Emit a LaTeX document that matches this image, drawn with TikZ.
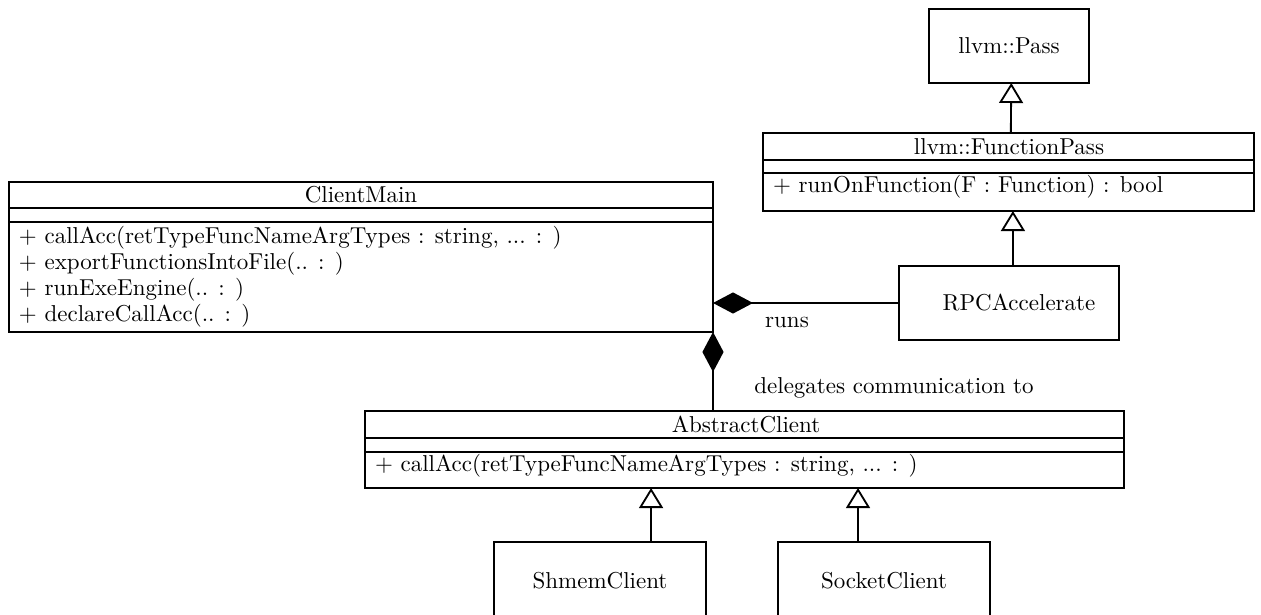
\documentclass[tikz,border=0pt]{standalone}
\usetikzlibrary{arrows.meta,calc}
\newdimen\px \px=0.4348pt
\begin{document}
\begin{tikzpicture}[x=0.4348pt,y=-0.4348pt,
  box/.style={draw,line width=0.8pt,inner sep=0pt,outer sep=0pt},
  txt/.style={inner sep=0pt,outer sep=0pt},
  sep/.style={line width=0.8pt},
  inh/.style={line width=0.8pt,-{Triangle[open,width=10.4pt,length=8.7pt,line width=0.8pt]}},
  comp/.style={line width=0.8pt,-{Diamond[width=9.2pt,length=17.4pt]}}]
\useasboundingbox (0,0) rectangle (1261,615);
\fill[white] (0,0) rectangle (1261,615);
\clip (0,0) rectangle (1261,615);

% llvm::Pass
\node[box,minimum width=160\px,minimum height=74\px] (pass) at (1009,46) {llvm::Pass};

% llvm::FunctionPass
\node[box,minimum width=491\px,minimum height=78\px] (fp) at (1008.5,172) {};
\draw[sep] ($(fp.north west)+(0,27)$) -- ($(fp.north east)+(0,27)$);
\draw[sep] ($(fp.north west)+(0,40)$) -- ($(fp.north east)+(0,40)$);
\node[txt] (fpt) at (1009,147) {llvm::FunctionPass};
\node[txt,anchor=base west] (fpm) at (773,193) {+ runOnFunction(F : Function) : bool};

% RPCAccelerate
\node[box,minimum width=220\px,minimum height=74\px] (rpc) at (1009,303) {};
\node[txt] (rpct) at (1019,303) {RPCAccelerate};

% ClientMain
\node[box,minimum width=704\px,minimum height=150\px] (cm) at (361,257) {};
\draw[sep] ($(cm.north west)+(0,26)$) -- ($(cm.north east)+(0,26)$);
\draw[sep] ($(cm.north west)+(0,40)$) -- ($(cm.north east)+(0,40)$);
\node[txt] (cmt) at (361,195) {ClientMain};
\node[txt,anchor=base west] (cm1) at (19,243) {+ callAcc(retTypeFuncNameArgTypes : string, ... : )};
\node[txt,anchor=base west] (cm2) at (19,269) {+ exportFunctionsIntoFile(.. : )};
\node[txt,anchor=base west] (cm3) at (19,295) {+ runExeEngine(.. : )};
\node[txt,anchor=base west] (cm4) at (19,321) {+ declareCallAcc(.. : )};

% AbstractClient
\node[box,minimum width=759\px,minimum height=77\px] (abs) at (744.5,449.5) {};
\draw[sep] ($(abs.north west)+(0,27)$) -- ($(abs.north east)+(0,27)$);
\draw[sep] ($(abs.north west)+(0,41)$) -- ($(abs.north east)+(0,41)$);
\node[txt] (abst) at (746,425) {AbstractClient};
\node[txt,anchor=base west] (absm) at (375,471) {+ callAcc(retTypeFuncNameArgTypes : string, ... : )};

% Clients
\node[box,minimum width=212\px,minimum height=78\px] (shmem) at (600,581) {ShmemClient};
\node[box,minimum width=212\px,minimum height=78\px] (socket) at (884,581) {SocketClient};

% connectors
\draw[inh] ([xshift=1pt]fp.north) -- ([xshift=1pt]pass.south);
\draw[inh] ([xshift=1.7pt]rpc.north) -- ([xshift=1.7pt]rpc.north |- fp.south);
\draw[comp] (rpc.west) -- (rpc.west -| cm.east);
\draw[comp] (abs.north -| cm.east) -- (cm.south east);
\draw[inh] ([xshift=22.2pt]shmem.north) -- ([xshift=22.2pt]shmem.north |- abs.south);
\draw[inh] ([xshift=-11.3pt]socket.north) -- ([xshift=-11.3pt]socket.north |- abs.south);

% labels
\node[txt,anchor=base] (runs) at (787,327) {runs};
\node[txt,anchor=base] (deleg) at (894,393) {delegates communication to};
\end{tikzpicture}
\end{document}
